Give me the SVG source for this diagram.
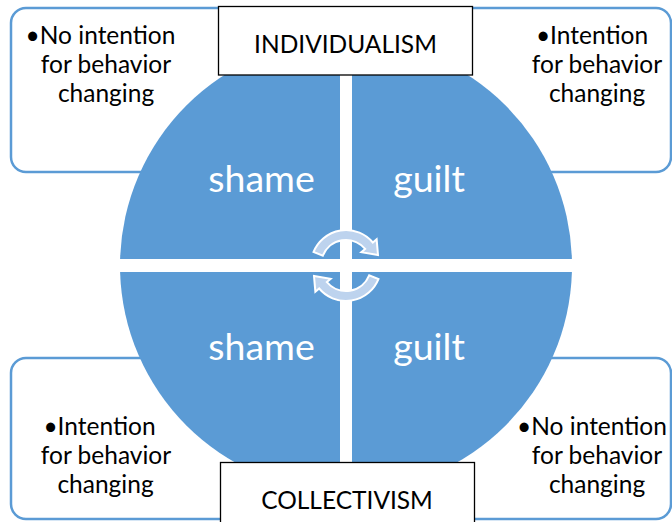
<svg xmlns="http://www.w3.org/2000/svg" width="672" height="522" viewBox="0 0 672 522">
<style>
.note{fill:#ffffff;stroke:#5b9bd5;stroke-width:2.5}
.quad{fill:#5b9bd5}
.lbl{fill:#ffffff;stroke:#000000;stroke-width:1.3}
.t{font-family:Lato,"Liberation Sans",sans-serif;font-size:24.5px;fill:#000000;text-anchor:middle}
.q{font-family:Lato,"Liberation Sans",sans-serif;font-size:37.5px;fill:#ffffff;text-anchor:middle}
.arr{fill:#bdd3ee;stroke:#ffffff;stroke-width:2}
</style>
<rect width="672" height="522" fill="#ffffff"/>
<g id="note-tl"><rect class="note" x="11" y="8" width="289" height="164" rx="15"/>
<text class="t" x="100.5" y="44">•No intention</text><text class="t" x="106" y="73">for behavior</text><text class="t" x="106" y="102">changing</text></g>
<g id="note-tr"><rect class="note" x="400" y="8" width="271" height="164" rx="15"/></g>
<g id="note-bl"><rect class="note" x="11" y="358" width="289" height="161" rx="15"/></g>
<g id="note-br"><rect class="note" x="400" y="358" width="271" height="161" rx="15"/></g>
<g id="quad-tl"><path class="quad" d="M340 259 L120.1 259 A226 226 0 0 1 340 39.6 Z"/><text class="q" x="261.5" y="192">shame</text></g>
<g id="quad-tr"><path class="quad" d="M352 259 L352 39.6 A226 226 0 0 1 571.9 259 Z"/><text class="q" x="429" y="192">guilt</text></g>
<g id="quad-br"><path class="quad" d="M352 272 L571.9 272 A226 226 0 0 1 352 491.4 Z"/><text class="q" x="429" y="360">guilt</text></g>
<g id="quad-bl"><path class="quad" d="M340 272 L340 491.4 A226 226 0 0 1 120.1 272 Z"/><text class="q" x="261.5" y="360">shame</text></g>
<g id="text-tr"><text class="t" x="592" y="44">•Intention</text><text class="t" x="597" y="73">for behavior</text><text class="t" x="597" y="102">changing</text></g>
<g id="text-bl"><text class="t" x="99.5" y="435">•Intention</text><text class="t" x="106" y="464">for behavior</text><text class="t" x="105.5" y="493">changing</text></g>
<g id="text-br"><text class="t" x="592" y="435">•No intention</text><text class="t" x="597" y="464">for behavior</text><text class="t" x="597" y="493">changing</text></g>
<g id="individualism"><rect class="lbl" x="218.5" y="6.5" width="254" height="68.5"/><text class="t" x="345.5" y="53">INDIVIDUALISM</text></g>
<g id="collectivism"><rect class="lbl" x="220.5" y="462.5" width="254" height="70"/><text class="t" x="347" y="509">COLLECTIVISM</text></g>
<g id="connectors">
<path id="arrow-top" class="arr" d="M313.55 251.89 A35 35 0 0 1 372.81 242.5 L376.64 239.29 L378 255 L361.32 252.14 L365.15 248.93 A25 25 0 0 0 322.82 255.63 Z"/>
<path id="arrow-bottom" class="arr" transform="rotate(180 346 265.5)" d="M313.55 251.89 A35 35 0 0 1 372.81 242.5 L376.64 239.29 L378 255 L361.32 252.14 L365.15 248.93 A25 25 0 0 0 322.82 255.63 Z"/>
</g>
</svg>
